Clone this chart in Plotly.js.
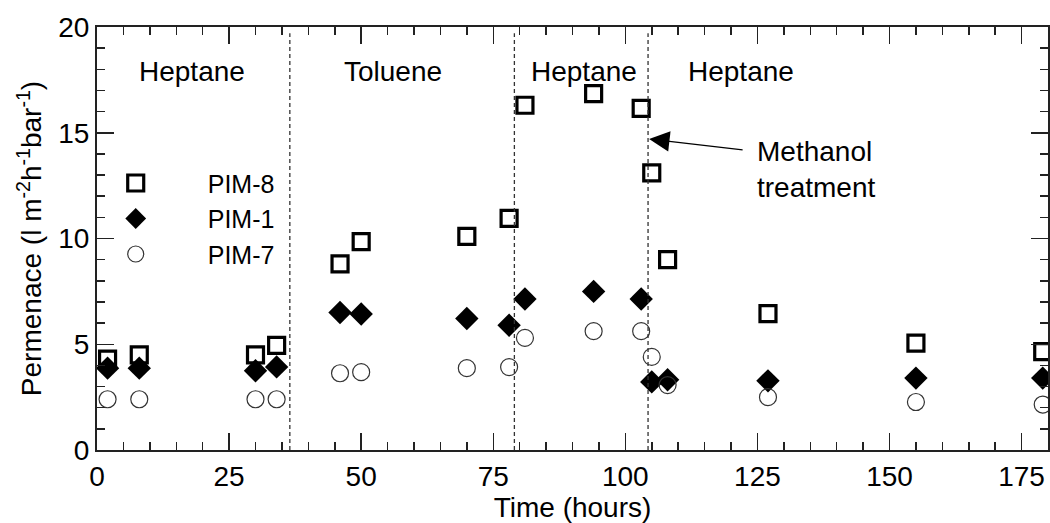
<!DOCTYPE html>
<html>
<head>
<meta charset="utf-8">
<script src="https://cdn.plot.ly/plotly-3.0.1.min.js"></script>
<style>html,body{margin:0;padding:0;background:#fff;}#chart{width:1050px;height:523px;}</style>
</head>
<body>
<div id="chart"></div>
<script>
// Time (hours) for each measurement
const timeHours = [2, 8, 30, 34, 46, 50, 70, 78, 81, 94, 103, 105, 108, 127, 155, 179];
// Permeance values (l m-2 h-1 bar-1)
const pim8 = [4.3, 4.5, 4.5, 4.95, 8.8, 9.85, 10.1, 10.95, 16.3, 16.85, 16.15, 13.1, 9.0, 6.45, 5.05, 4.65];
const pim1 = [3.87, 3.87, 3.75, 3.93, 6.5, 6.43, 6.22, 5.9, 7.14, 7.5, 7.14, 3.22, 3.32, 3.27, 3.4, 3.4];
const pim7 = [2.4, 2.4, 2.4, 2.4, 3.63, 3.68, 3.87, 3.92, 5.3, 5.62, 5.62, 4.4, 3.07, 2.5, 2.27, 2.15];
const seriesNames = ['PIM-8', 'PIM-1', 'PIM-7'];
// Solvent change times (dashed separators)
const solventChanges = [36.5, 79, 104.3];
const phaseLabels = ['Heptane', 'Toluene', 'Heptane', 'Heptane'];
const phaseLabelX = [18, 56, 92.2, 121.8];

const FONT = 'Liberation Sans, Arial, sans-serif';

const traces = [
  {x: timeHours, y: pim8, name: seriesNames[0], type: 'scatter', mode: 'markers',
   marker: {symbol: 'square-open', size: 16, color: '#000', line: {width: 3.2, color: '#000'}}},
  {x: timeHours, y: pim1, name: seriesNames[1], type: 'scatter', mode: 'markers',
   marker: {symbol: 'diamond', size: 18, color: '#000', line: {width: 0}}},
  {x: timeHours, y: pim7, name: seriesNames[2], type: 'scatter', mode: 'markers',
   marker: {symbol: 'circle-open', size: 17, color: '#333', line: {width: 1.2, color: '#333'}}}
];

const shapes = solventChanges.map(t => ({
  type: 'line', xref: 'x', yref: 'paper', x0: t, x1: t, y0: 0, y1: 0.985,
  line: {color: '#333', width: 1.3, dash: '4px,3px'}
}));

const annotations = phaseLabels.map((s, i) => ({
  x: phaseLabelX[i], y: 17.9, xref: 'x', yref: 'y', text: s, showarrow: false,
  font: {family: FONT, size: 28, color: '#000'}
}));
annotations.push({
  x: 104.5, y: 14.7, xref: 'x', yref: 'y', text: '', showarrow: true,
  ax: 95, ay: 11, arrowhead: 2, arrowsize: 3.4, arrowwidth: 1.2, arrowcolor: '#000'
});
annotations.push({
  x: 124.6, y: 13.25, xref: 'x', yref: 'y', text: 'Methanol<br>treatment', showarrow: false,
  xanchor: 'left', align: 'left', font: {family: FONT, size: 28, color: '#000'}
});

const axisCommon = {
  showgrid: false, zeroline: false, showline: true, linewidth: 2, linecolor: '#222',
  mirror: 'allticks', ticks: 'inside', ticklen: 17, tickwidth: 1.5, tickcolor: '#222',
  tickfont: {family: FONT, size: 28, color: '#000'}
};

const layout = {
  width: 1050, height: 523,
  margin: {l: 97, r: 2, t: 27, b: 73},
  paper_bgcolor: '#fff', plot_bgcolor: '#fff',
  font: {family: FONT, color: '#000'},
  showlegend: true,
  legend: {x: -0.035, y: 0.685, xanchor: 'left', yanchor: 'top', bgcolor: 'rgba(0,0,0,0)',
    font: {family: FONT, size: 25, color: '#000'}, itemwidth: 134, tracegroupgap: 0},
  xaxis: Object.assign({}, axisCommon, {
    range: [0, 180], tick0: 0, dtick: 25,
    minor: {dtick: 5, ticklen: 8, ticks: 'inside', tickwidth: 1.5, tickcolor: '#222'},
    title: {text: 'Time (hours)', font: {family: FONT, size: 28, color: '#000'}, standoff: 6}
  }),
  yaxis: Object.assign({}, axisCommon, {
    range: [0, 20], tick0: 0, dtick: 5,
    minor: {dtick: 1, ticklen: 8, ticks: 'inside', tickwidth: 1.5, tickcolor: '#222'},
    title: {text: 'Permenace (l m<sup>-2</sup>h<sup>-1</sup>bar<sup>-1</sup>)', font: {family: FONT, size: 28, color: '#000'}, standoff: 8}
  }),
  shapes: shapes,
  annotations: annotations
};

Plotly.newPlot('chart', traces, layout, {displayModeBar: false, staticPlot: true});
</script>
</body>
</html>
